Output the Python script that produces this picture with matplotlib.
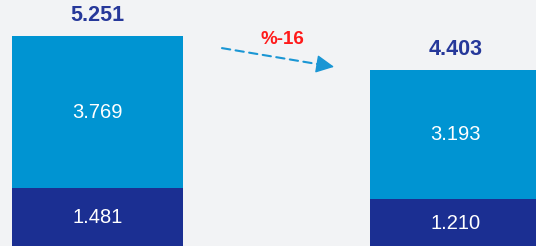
import matplotlib

matplotlib.use("Agg")
import matplotlib.pyplot as plt
import numpy as np

# --- data ---------------------------------------------------------------
periods = ["A", "B"]
bottom_vals = [1.481, 1.210]
top_vals = [3.769, 3.193]
totals = [5.251, 4.403]
change_label = "%-16"

NAVY = "#1b2f92"
BLUE = "#0094d2"
BG = "#f2f3f5"
ARROW = "#1a96d4"

plt.rcParams["font.family"] = ["Liberation Sans", "DejaVu Sans"]

fig = plt.figure(figsize=(5.36, 2.46), dpi=100)
fig.patch.set_facecolor(BG)
ax = fig.add_axes([0, 0, 1, 1])
ax.set_facecolor(BG)

x = np.arange(len(periods))
width = 0.478
ax.bar(x, bottom_vals, width, color=NAVY, edgecolor="none")
ax.bar(x, top_vals, width, bottom=bottom_vals, color=BLUE, edgecolor="none")

for xi, b, t, tot in zip(x, bottom_vals, top_vals, totals):
    ax.text(xi, b / 2, f"{b:.3f}", ha="center", va="center",
            color="white", fontsize=14.5)
    ax.text(xi, b + t / 2, f"{t:.3f}", ha="center", va="center",
            color="white", fontsize=14.5)
    ax.text(xi, tot + 0.25, f"{tot:.3f}", ha="center", va="bottom",
            color="#26389a", fontsize=15.5, fontweight="bold")

# dashed change arrow between the bars (dashed shaft + solid head)
start = np.array([0.348, 4.955])
tip = np.array([0.661, 4.49])
near = start + 0.93 * (tip - start)
ax.annotate("", xy=near, xytext=start,
            arrowprops=dict(arrowstyle="-", color=ARROW, lw=1.5,
                            ls=(0, (4, 2.6)), shrinkA=0, shrinkB=0))
ax.annotate("", xy=tip, xytext=near,
            arrowprops=dict(arrowstyle="-|>,head_length=0.8,head_width=0.4",
                            color=ARROW, lw=1.0, mutation_scale=14,
                            shrinkA=0, shrinkB=0))
ax.text(0.518, 5.16, change_label, ha="center", va="center",
        color="#ff1a1a", fontsize=13.5, fontweight="bold")

ax.set_xlim(-0.272, 1.225)
ax.set_ylim(0.04, 6.15)
ax.axis("off")

fig.savefig("out.png", dpi=100, facecolor=BG)
